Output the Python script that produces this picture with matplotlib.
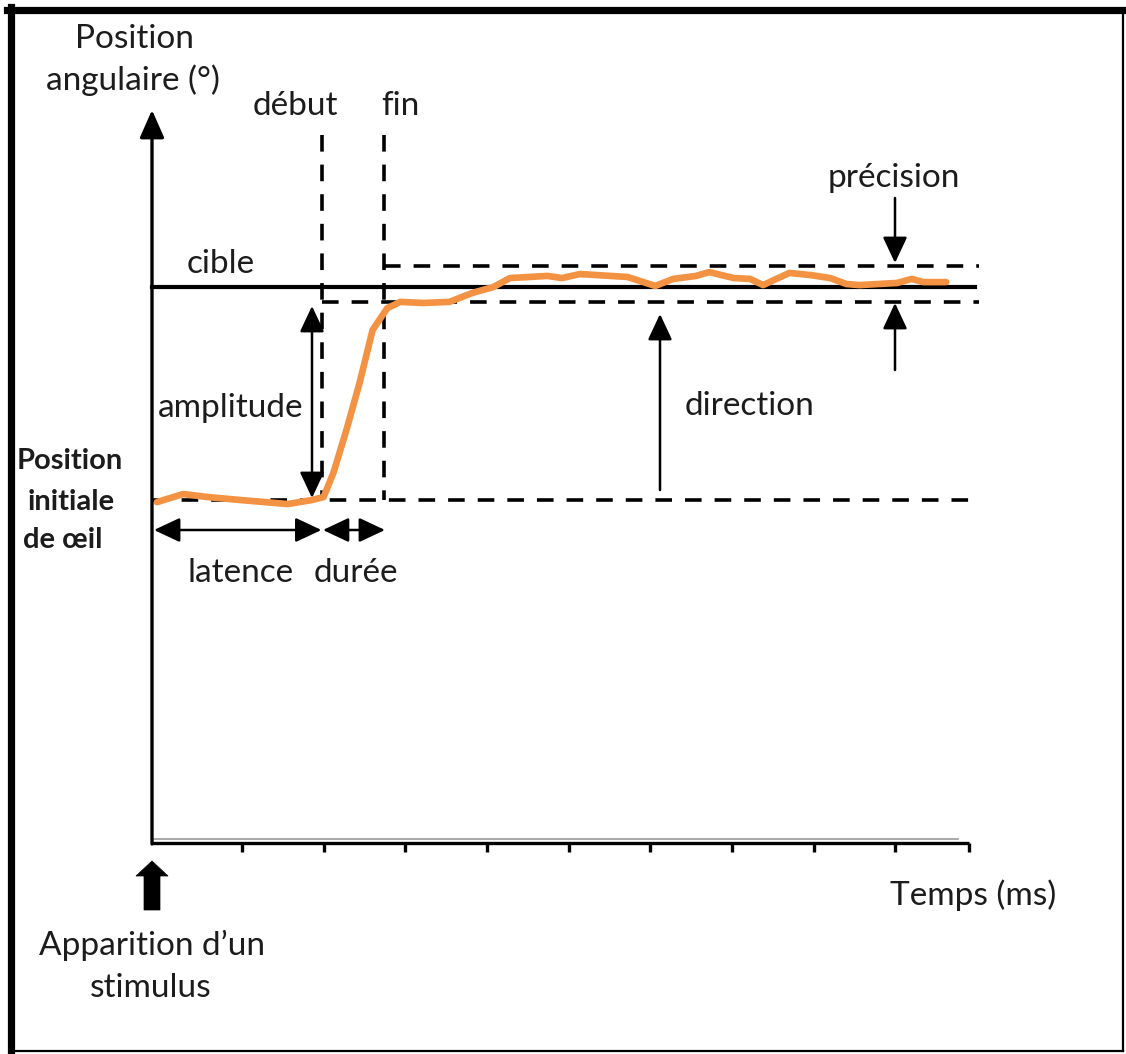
import matplotlib
matplotlib.use("Agg")
import matplotlib.pyplot as plt
from matplotlib.patches import Polygon

# ---------------- data (time in ms, position in degrees) ----------------
curve_time_ms = [3, 19, 34, 54, 83, 98, 105, 111, 119, 127, 135, 144, 152, 166,
                 182, 196, 209, 219, 242, 251, 262, 272, 291, 308, 319, 333,
                 341, 356, 366, 374, 390, 403, 415, 425, 433, 456, 465, 472, 486]
curve_position_deg = [-0.1, 0.28, 0.14, 0.0, -0.19, 0.0, 0.14, 1.27, 3.29, 5.49,
                      7.98, 9.01, 9.30, 9.25, 9.30, 9.72, 10.0, 10.42, 10.52,
                      10.42, 10.61, 10.56, 10.47, 10.05, 10.38, 10.52, 10.70,
                      10.42, 10.38, 10.09, 10.66, 10.56, 10.42, 10.14, 10.09,
                      10.19, 10.38, 10.23, 10.23]
target_deg = 10.0
initial_deg = 0.0
precision_low_deg = 9.3
precision_high_deg = 11.0
onset_ms = 104
offset_ms = 142
axis_end_ms = 500
tick_ms = [55, 105, 155, 205, 255, 305, 355, 405, 455, 500]

# ---------------- layout helpers (canvas pixels -> data) ----------------
W, H = 1126, 1054
PX_PER_MS, PX_PER_DEG = 1.634, 21.3
X0, Y0 = 152, 500


def X(px):
    return (px - X0) / PX_PER_MS


def Y(py):
    return (Y0 - py) / PX_PER_DEG


plt.rcParams["font.family"] = ["Lato", "DejaVu Sans"]
TXT = "#1c1c1c"
FS = 24
BLACK = "black"
ORANGE = "#F39242"

fig = plt.figure(figsize=(W / 100, H / 100), dpi=100)
ax = fig.add_axes([0, 0, 1, 1])
ax.set_xlim(X(0), X(W))
ax.set_ylim(Y(H), Y(0))
ax.axis("off")

# frame
ax.plot([X(7), X(1123)], [Y(10.5), Y(10.5)], color=BLACK, lw=5.2, solid_capstyle="projecting")
ax.plot([X(10.5), X(10.5)], [Y(7), Y(1051)], color=BLACK, lw=5.2, solid_capstyle="projecting")
ax.plot([X(1123), X(1123)], [Y(10), Y(1051)], color=BLACK, lw=1.6)
ax.plot([X(10), X(1123)], [Y(1051), Y(1051)], color=BLACK, lw=1.6)

# axes
x_axis_y = Y(843)
ax.plot([0, X(958)], [Y(839), Y(839)], color="#9a9a9a", lw=1.2)
ax.plot([0, axis_end_ms], [x_axis_y, x_axis_y], color=BLACK, lw=2.4, solid_capstyle="butt")
for t in tick_ms:
    ax.plot([t, t], [x_axis_y, Y(852)], color=BLACK, lw=2.4, solid_capstyle="butt")
ax.annotate("", xy=(0, Y(110)), xytext=(0, Y(844)),
            arrowprops=dict(arrowstyle="-|>,head_length=1.7,head_width=0.75",
                            mutation_scale=10, lw=2.4, color=BLACK,
                            shrinkA=0, shrinkB=0))

# stimulus block arrow
tip, base, bottom = 861, 876, 910
hw, sw = 16, 8
pts = [(X0, tip), (X0 + hw, base), (X0 + sw, base), (X0 + sw, bottom),
       (X0 - sw, bottom), (X0 - sw, base), (X0 - hw, base)]
ax.add_patch(Polygon([(X(a), Y(b)) for a, b in pts], closed=True,
                     facecolor=BLACK, edgecolor=BLACK, lw=0.5))

# reference lines
dash = dict(color=BLACK, lw=2.6, dashes=(4.6, 3.6), dash_capstyle="butt")
ax.plot([0, X(975)], [target_deg, target_deg], color=BLACK, lw=3.0)
ax.plot([onset_ms, onset_ms], [Y(135), initial_deg], **dash)
ax.plot([offset_ms, offset_ms], [Y(135), initial_deg], **dash)
ax.plot([offset_ms, X(979)], [precision_high_deg, precision_high_deg], **dash)
ax.plot([onset_ms, X(979)], [precision_low_deg, precision_low_deg], **dash)
ax.plot([0, X(979)], [initial_deg, initial_deg], **dash)

# eye trace
ax.plot(curve_time_ms, curve_position_deg, color=ORANGE, lw=4.8,
        solid_capstyle="round", solid_joinstyle="round")

# annotation arrows
def arrow(x1, y1, x2, y2, double=False):
    style = "<|-|>" if double else "-|>"
    ax.annotate("", xy=(x2, y2), xytext=(x1, y1),
                arrowprops=dict(arrowstyle=style + ",head_length=1.6,head_width=0.75",
                                mutation_scale=10, lw=1.8, color=BLACK,
                                shrinkA=0, shrinkB=0))


arrow(X(312), Y(498), X(312), Y(306), double=True)          # amplitude
arrow(X(660), Y(490), X(660), Y(314))                        # direction
arrow(X(895), Y(198), X(895), Y(263))                        # precision (down)
arrow(X(895), Y(370), X(895), Y(303))                        # precision (up)
arrow(X(154), Y(530), onset_ms - 0.3, Y(530), double=True)  # latence
arrow(onset_ms + 0.6, Y(530), X(385), Y(530), double=True)  # durée

# texts
def txt(px, py, s, **kw):
    ax.text(X(px), Y(py), s, ha="center", va="baseline", color=TXT,
            fontsize=kw.pop("fontsize", FS), **kw)


txt(134, 48, "Position")
txt(133, 90, "angulaire (°)")
txt(295, 115, "début")
txt(400, 115, "fin")
txt(221, 273, "cible")
txt(894, 187, "précision")
txt(231, 417, "amplitude")
txt(750, 415, "direction")
txt(241, 582, "latence")
txt(356, 582, "durée")
txt(973, 905, "Temps (ms)")
txt(152, 955, "Apparition d\u2019un")
txt(151, 997, "stimulus")
txt(70, 469, "Position", fontweight="bold", fontsize=21)
txt(71, 510, "initiale", fontweight="bold", fontsize=21)
txt(63, 548, "de œil", fontweight="bold", fontsize=21)

fig.savefig("out.png", dpi=100)
